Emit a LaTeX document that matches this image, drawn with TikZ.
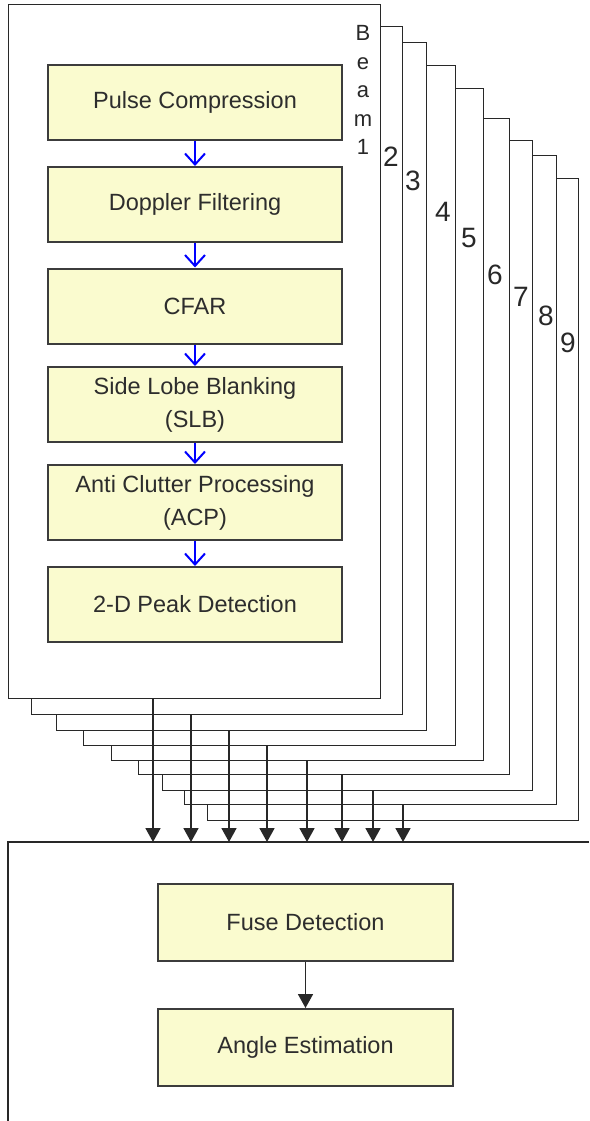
\documentclass[tikz,border=0pt]{standalone}
\usepackage{fontspec}
\setmainfont{Liberation Sans}
\usetikzlibrary{arrows.meta}
\definecolor{boxfill}{RGB}{250,251,207}
\definecolor{txt}{RGB}{45,45,45}
\definecolor{edge}{RGB}{60,60,60}
\definecolor{frm}{RGB}{40,40,40}
\begin{document}
\begin{tikzpicture}[x=1pt,y=-1pt,
  frame/.style={draw=frm, line width=1.4pt, fill=white, anchor=north west, inner sep=0pt},
  box/.style={draw=edge, line width=2pt, fill=boxfill, minimum width=294pt, minimum height=75pt,
    align=center, text=txt, font=\fontsize{23.5}{33}\selectfont, inner sep=0pt},
  blarr/.style={draw=blue, line width=2pt, -{Straight Barb[length=11pt,width=20pt,line width=2pt]}},
  karr/.style={draw=frm, line width=1.8pt, -{Triangle[length=14pt,width=15pt]}},
  num/.style={font=\fontsize{28}{28}\selectfont, text=frm, inner sep=0pt}]
\useasboundingbox (0,0) rectangle (589,1121);
% stacked beam frames (back to front)
\node[frame, minimum width=371pt, minimum height=642pt] (f9) at (207,178) {};
\node[frame, minimum width=372pt, minimum height=649pt] (f8) at (184,155) {};
\node[frame, minimum width=370pt, minimum height=650pt] (f7) at (162,140) {};
\node[frame, minimum width=371pt, minimum height=656pt] (f6) at (138,118) {};
\node[frame, minimum width=372pt, minimum height=672pt] (f5) at (111,88) {};
\node[frame, minimum width=372pt, minimum height=680pt] (f4) at (83,65) {};
\node[frame, minimum width=370pt, minimum height=688pt] (f3) at (56,42) {};
\node[frame, minimum width=371pt, minimum height=688pt] (f2) at (31,26) {};
\node[frame, minimum width=372pt, minimum height=694pt] (f1) at (8,4) {};
% beam labels
\node[font=\fontsize{22}{28.5}\selectfont, text=frm, align=center, inner sep=0pt] (b1) at (363,90) {B\\e\\a\\m\\1};
\node[num] (n2) at (391,157) {2};
\node[num] (n3) at (413,181) {3};
\node[num] (n4) at (443,212) {4};
\node[num] (n5) at (469,238) {5};
\node[num] (n6) at (495,275) {6};
\node[num] (n7) at (521,297) {7};
\node[num] (n8) at (546,316) {8};
\node[num] (n9) at (568,343) {9};
% processing chain
\node[box] (pc) at (195,102.5) {Pulse Compression};
\node[box] (df) at (195,204.5) {Doppler Filtering};
\node[box] (cf) at (195,306) {CFAR};
\node[box] (sl) at (195,404.5) {Side Lobe Blanking\\(SLB)};
\node[box] (ac) at (195,502.5) {Anti Clutter Processing\\(ACP)};
\node[box] (pd) at (195,604.5) {2-D Peak Detection};
\draw[blarr] (pc) -- (df);
\draw[blarr] (df) -- (cf);
\draw[blarr] (cf) -- (sl);
\draw[blarr] (sl) -- (ac);
\draw[blarr] (ac) -- (pd);
% lower frame
\draw[frm, line width=1.4pt] (589,842) -- (8,842) -- (8,1121);
\coordinate (t1) at (153,842);
\coordinate (t2) at (191,842);
\coordinate (t3) at (229,842);
\coordinate (t4) at (267,842);
\coordinate (t5) at (307,842);
\coordinate (t6) at (342,842);
\coordinate (t7) at (373,842);
\coordinate (t8) at (403,842);
\draw[karr] (f1.south -| t1) -- (t1);
\draw[karr] (f2.south -| t2) -- (t2);
\draw[karr] (f3.south -| t3) -- (t3);
\draw[karr] (f4.south -| t4) -- (t4);
\draw[karr] (f5.south -| t5) -- (t5);
\draw[karr] (f6.south -| t6) -- (t6);
\draw[karr] (f7.south -| t7) -- (t7);
\draw[karr] (f8.south -| t8) -- (t8);
% fusion chain
\node[box, minimum width=295pt, minimum height=77pt] (fd) at (305.5,922.5) {Fuse Detection};
\node[box, minimum width=295pt, minimum height=77pt] (ae) at (305.5,1047.5) {Angle Estimation};
\draw[karr] (fd) -- (ae);
\end{tikzpicture}
\end{document}
